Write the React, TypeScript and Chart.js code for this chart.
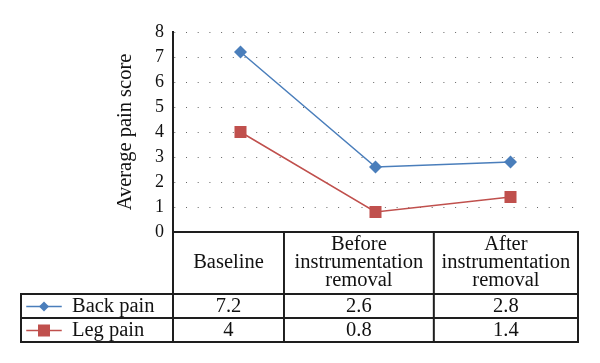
import React, { useEffect, useRef } from "react";
import { Chart, registerables } from "chart.js";

Chart.register(...registerables);

// ---- data ----
const categories: string[][] = [
  ["Baseline"],
  ["Before", "instrumentation", "removal"],
  ["After", "instrumentation", "removal"],
];
const seriesNames = ["Back pain", "Leg pain"];
const backPain = [7.2, 2.6, 2.8];
const legPain = [4, 0.8, 1.4];
const yMin = 0;
const yMax = 8;
const yStep = 1;

// ---- style ----
const FONT = "'Liberation Serif', 'DejaVu Serif', serif";
const BLUE = "#4a7ebb";
const RED = "#c0504d";
const COL_FRACTIONS = [0, 0.274, 0.644, 1];

const tablePlugin = {
  id: "dataTable",
  afterDraw(chart: any) {
    const { ctx, chartArea: ca } = chart;
    const headerH = 62;
    const rowH = 24;
    const top = ca.bottom;
    const r1 = top + headerH;
    const r2 = r1 + rowH;
    const r3 = r2 + rowH;
    const tableLeft = 21;
    const w = ca.right - ca.left;
    const cols = COL_FRACTIONS.map((f) => ca.left + f * w);

    ctx.save();
    ctx.strokeStyle = "#1e1e1e";
    ctx.lineWidth = 2;
    ctx.lineCap = "square";
    const line = (x1: number, y1: number, x2: number, y2: number) => {
      ctx.beginPath();
      ctx.moveTo(x1, y1);
      ctx.lineTo(x2, y2);
      ctx.stroke();
    };
    // horizontal
    line(ca.left, top, cols[3], top);
    line(tableLeft, r1, cols[3], r1);
    line(tableLeft, r2, cols[3], r2);
    line(tableLeft, r3, cols[3], r3);
    // vertical
    line(tableLeft, r1, tableLeft, r3);
    line(ca.left, ca.top, ca.left, r3);
    for (let i = 1; i < cols.length; i++) line(cols[i], top, cols[i], r3);

    // header text
    ctx.fillStyle = "#111";
    ctx.font = `20.5px ${FONT}`;
    ctx.textAlign = "center";
    ctx.textBaseline = "middle";
    const lh = 18;
    categories.forEach((lines, i) => {
      const cx = (cols[i] + cols[i + 1]) / 2;
      const cy = (top + r1) / 2;
      lines.forEach((t, j) => {
        ctx.fillText(t, cx, cy + (j - (lines.length - 1) / 2) * lh);
      });
    });

    // value rows
    const rows = [
      { name: seriesNames[0], values: backPain, color: BLUE, style: "diamond" },
      { name: seriesNames[1], values: legPain, color: RED, style: "square" },
    ];
    rows.forEach((row, ri) => {
      const y0 = ri === 0 ? r1 : r2;
      const cy = y0 + rowH / 2 + 0.5;
      ctx.fillStyle = "#111";
      row.values.forEach((v, i) => {
        const cx = (cols[i] + cols[i + 1]) / 2;
        ctx.textAlign = "center";
        ctx.fillText(String(v), cx, cy);
      });
      // legend key
      ctx.strokeStyle = row.color;
      ctx.lineWidth = 1.5;
      ctx.beginPath();
      ctx.moveTo(27, cy);
      ctx.lineTo(61, cy);
      ctx.stroke();
      ctx.fillStyle = row.color;
      if (row.style === "diamond") {
        ctx.beginPath();
        ctx.moveTo(44, cy - 5);
        ctx.lineTo(49, cy);
        ctx.lineTo(44, cy + 5);
        ctx.lineTo(39, cy);
        ctx.closePath();
        ctx.fill();
      } else {
        ctx.fillRect(38, cy - 6, 12, 12);
      }
      ctx.fillStyle = "#111";
      ctx.textAlign = "left";
      ctx.fillText(row.name, 72, cy);
    });
    ctx.restore();
  },
};

export default function App() {
  const ref = useRef<HTMLCanvasElement>(null);
  useEffect(() => {
    document.body.style.margin = "0";
    const chart = new Chart(ref.current as HTMLCanvasElement, {
      type: "line",
      data: {
        labels: categories.map((c) => c.join(" ")),
        datasets: [
          {
            label: seriesNames[0],
            data: backPain,
            borderColor: BLUE,
            backgroundColor: BLUE,
            borderWidth: 1.5,
            pointStyle: "rectRot",
            pointRadius: 6.5,
            pointBorderWidth: 0,
          },
          {
            label: seriesNames[1],
            data: legPain,
            borderColor: RED,
            backgroundColor: RED,
            borderWidth: 1.5,
            pointStyle: "rect",
            pointRadius: 8.5,
            pointBorderWidth: 0,
          },
        ],
      },
      options: {
        responsive: false,
        animation: false,
        layout: { padding: { left: 113, top: 32, right: 22, bottom: 131 } },
        plugins: { legend: { display: false }, tooltip: { enabled: false } },
        scales: {
          x: { display: false, offset: true },
          y: {
            min: yMin,
            max: yMax,
            afterFit: (s: any) => {
              s.width = 60;
            },
            ticks: {
              stepSize: yStep,
              autoSkip: false,
              color: "#111",
              padding: 9,
              font: { family: FONT, size: 18 },
            },
            grid: { color: "#666", lineWidth: 1, drawTicks: false },
            border: { display: true, color: "#1e1e1e", width: 2, dash: [1, 10.7], dashOffset: 11.4 },
            title: {
              display: true,
              text: "Average pain score",
              color: "#111",
              font: { family: FONT, size: 20.5 },
              padding: { top: 0, bottom: 0 },
            },
          },
        },
      },
      plugins: [tablePlugin],
    });
    return () => chart.destroy();
  }, []);
  return (
    <div style={{ width: 600, height: 363 }}>
      <canvas ref={ref} width={600} height={363} />
    </div>
  );
}
